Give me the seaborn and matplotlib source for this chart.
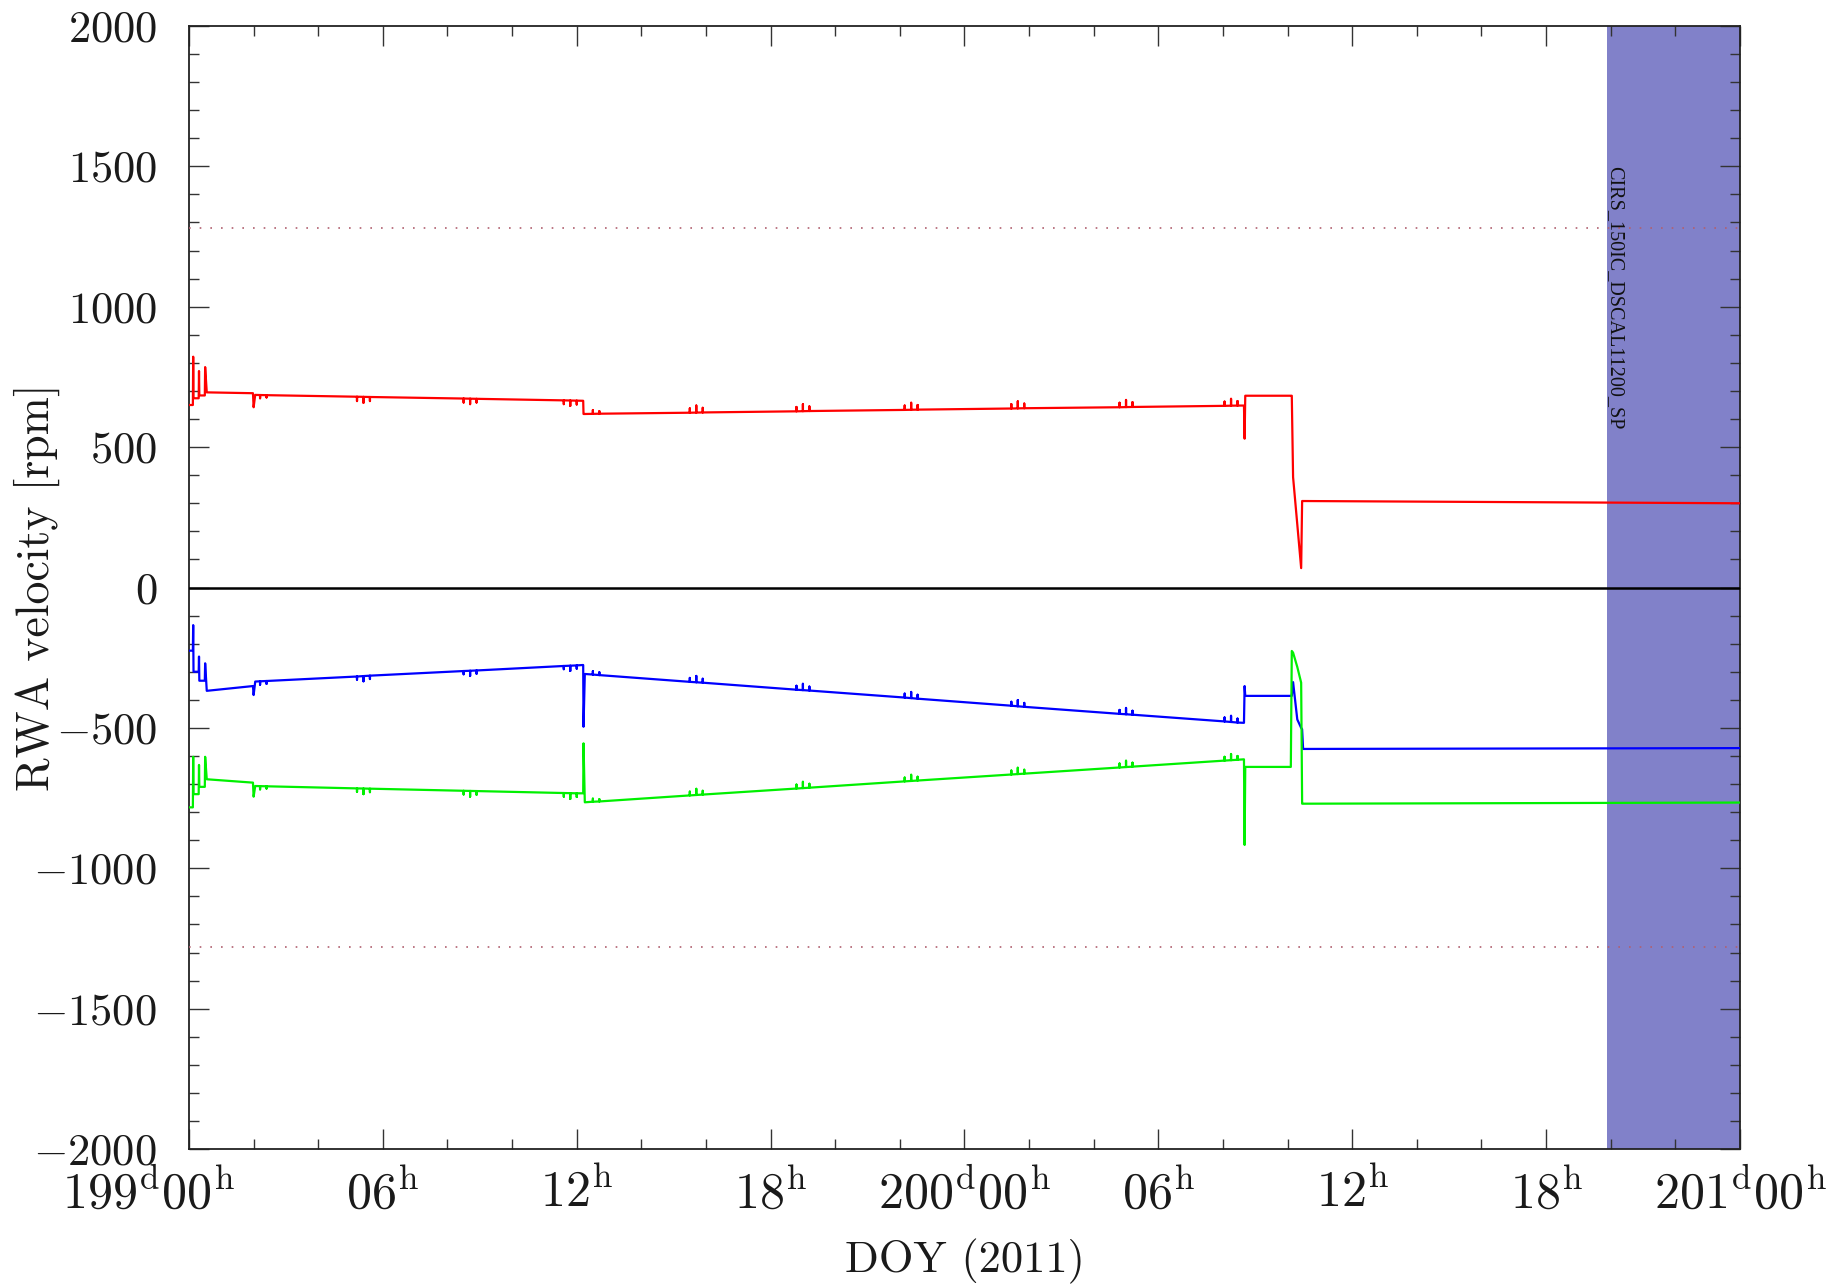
import matplotlib
matplotlib.use("Agg")
import pandas as pd
import matplotlib.pyplot as plt
import matplotlib.transforms as mtransforms
from matplotlib.ticker import MultipleLocator
import seaborn as sns

# horas desde 199d00h (DOY 2011)
hours = [0.00, 0.12, 0.13, 0.14, 0.30, 0.31, 0.32, 0.49, 0.50, 0.55, 1.98, 2.00, 2.05,
         2.20, 2.20, 2.20, 2.40, 2.40, 2.40,
         5.20, 5.20, 5.20, 5.40, 5.40, 5.40, 5.60, 5.60, 5.60,
         8.50, 8.50, 8.50, 8.70, 8.70, 8.70, 8.90, 8.90, 8.90,
         11.60, 11.60, 11.60, 11.80, 11.80, 11.80, 12.00, 12.00, 12.00,
         12.20, 12.21, 12.25,
         12.50, 12.50, 12.50, 12.70, 12.70, 12.70,
         15.50, 15.50, 15.50, 15.70, 15.70, 15.70, 15.90, 15.90, 15.90,
         18.80, 18.80, 18.80, 19.00, 19.00, 19.00, 19.20, 19.20, 19.20,
         22.15, 22.15, 22.15, 22.35, 22.35, 22.35, 22.55, 22.55, 22.55,
         25.45, 25.45, 25.45, 25.65, 25.65, 25.65, 25.85, 25.85, 25.85,
         28.80, 28.80, 28.80, 29.00, 29.00, 29.00, 29.20, 29.20, 29.20,
         32.05, 32.05, 32.05, 32.25, 32.25, 32.25, 32.45, 32.45, 32.45,
         32.65, 32.67, 32.69, 34.10, 34.13, 34.17, 34.30, 34.42, 34.45, 34.48, 48.00]

rwa_red = [650, 650, 822, 674, 674, 771, 684, 684, 785, 695, 692, 642, 686,
           685.5, 674, 685.5, 685, 677, 685,
           679.5, 664, 679.5, 679, 658, 679, 678.5, 664, 678.5,
           673, 659, 673, 672.5, 653, 672.5, 672, 659, 672,
           666.5, 653, 666.5, 666, 647, 666, 665.5, 652, 665.5,
           665, 618, 618,
           618.5, 632, 618.5, 619, 628, 619,
           622.5, 638, 622.5, 623, 648, 623, 623.5, 640, 623.5,
           627.5, 643, 627.5, 628, 653, 628, 628.5, 645, 628.5,
           632.5, 648, 632.5, 633, 658, 633, 633.5, 650, 633.5,
           637.5, 653, 637.5, 638, 663, 638, 638.5, 655, 638.5,
           642, 658, 642, 642.5, 668, 642.5, 643, 660, 643,
           647, 662, 647, 647.5, 672, 647.5, 648, 664, 648,
           648, 530, 683, 683, 683, 393, 225, 69, 308, 308, 300]

rwa_blue = [-225, -225, -134, -300, -300, -246, -332, -332, -270, -368, -351, -383, -335,
            -334, -346, -334, -333, -343, -333,
            -317, -328, -317, -315.5, -334, -315.5, -314, -326, -314,
            -297.5, -309, -297.5, -296.5, -315, -296.5, -295.5, -307, -295.5,
            -279.5, -291, -279.5, -278.5, -297, -278.5, -277.5, -289, -277.5,
            -276, -496, -308,
            -310, -298, -310, -312, -302, -312,
            -336, -322, -336, -337.5, -315, -337.5, -339, -325, -339,
            -364, -350, -364, -365.5, -343, -365.5, -367, -353, -367,
            -392, -378, -392, -394, -372, -394, -396, -382, -396,
            -421, -407, -421, -423, -401, -423, -425, -411, -425,
            -450, -436, -450, -451.5, -429, -451.5, -453, -439, -453,
            -477, -463, -477, -479, -457, -479, -481, -467, -481,
            -482, -351, -386, -386, -386, -337, -470, -500, -505, -575, -572]

rwa_green = [-783, -783, -603, -736, -736, -632, -710, -710, -603, -683, -695, -745, -707,
             -707.5, -719, -707.5, -708, -716, -708,
             -715.5, -728, -715.5, -716, -736, -716, -716.5, -729, -716.5,
             -724, -737, -724, -724.5, -745, -724.5, -725, -738, -725,
             -732, -745, -732, -732.5, -753, -732.5, -733, -746, -733,
             -733, -555, -765,
             -763, -752, -763, -762, -754, -762,
             -740.5, -727, -740.5, -739, -717, -739, -737.5, -724, -737.5,
             -716, -702, -716, -714.5, -692, -714.5, -713, -699, -713,
             -690.5, -677, -690.5, -689, -667, -689, -687.5, -674, -687.5,
             -666, -652, -666, -664.5, -642, -664.5, -663, -649, -663,
             -641, -627, -641, -639.5, -617, -639.5, -638, -624, -638,
             -616.5, -603, -616.5, -615, -593, -615, -613.5, -600, -613.5,
             -612, -917, -639, -639, -226, -232, -283, -339, -770, -770, -766]

limites = [1280, -1280]
bloque_inicio, bloque_fin = 43.9, 48.0
bloque_nombre = "CIRS_150IC_DSCAL11200_SP"

xtick_hours = [0, 6, 12, 18, 24, 30, 36, 42, 48]
xtick_labels = [r"$199^{\rm d}00^{\rm h}$", r"$06^{\rm h}$", r"$12^{\rm h}$", r"$18^{\rm h}$",
                r"$200^{\rm d}00^{\rm h}$", r"$06^{\rm h}$", r"$12^{\rm h}$", r"$18^{\rm h}$",
                r"$201^{\rm d}00^{\rm h}$"]
ytick_vals = [-2000, -1500, -1000, -500, 0, 500, 1000, 1500, 2000]
ytick_labels = [r"$-2000$", r"$-1500$", r"$-1000$", r"$-500$", r"$0$",
                r"$500$", r"$1000$", r"$1500$", r"$2000$"]

assert len(hours) == len(rwa_red) == len(rwa_blue) == len(rwa_green)

sns.set_style("ticks")
plt.rcParams["font.family"] = ["cmr10", "DejaVu Serif"]
plt.rcParams["mathtext.fontset"] = "cm"
plt.rcParams["axes.unicode_minus"] = False

datos = pd.concat([
    pd.DataFrame({"hora": hours, "rpm": rwa_red, "rueda": "rwa1"}),
    pd.DataFrame({"hora": hours, "rpm": rwa_blue, "rueda": "rwa2"}),
    pd.DataFrame({"hora": hours, "rpm": rwa_green, "rueda": "rwa3"}),
], ignore_index=True)

fig = plt.figure(figsize=(18.42, 12.85), dpi=100)
ax = fig.add_axes([0.1026, 0.1058, 0.842, 0.874])

ax.axvspan(bloque_inicio, bloque_fin, color="#8181c9", lw=0, zorder=0)
for lim in limites:
    ax.axhline(lim, color="#b06070", lw=1.2, ls=(0, (1, 5.4)), zorder=4)

sns.lineplot(data=datos, x="hora", y="rpm", hue="rueda",
             palette={"rwa1": "#ff0000", "rwa2": "#0000ff", "rwa3": "#00f000"},
             estimator=None, sort=False, linewidth=1.6, legend=False, ax=ax, zorder=3)
ax.axhline(0, color="black", lw=1.8, zorder=5)

ax.text(43.83, 1500, bloque_nombre, rotation=-90, ha="left", va="top",
        fontsize=14.5, family="Liberation Serif", color="#111111", zorder=6)

ax.set_xlim(0, 48)
ax.set_ylim(-2000, 2000)
ax.set_xticks(xtick_hours, labels=xtick_labels)
ax.set_yticks(ytick_vals, labels=ytick_labels)
ax.xaxis.set_minor_locator(MultipleLocator(2))
ax.yaxis.set_minor_locator(MultipleLocator(100))
ax.tick_params(which="both", direction="in", top=True, right=True,
               color="#333333", width=1.0, labelcolor="#1a1a1a")
ax.tick_params(which="major", length=14.4)
ax.tick_params(which="minor", length=7.2)
ax.tick_params(axis="x", pad=14, labelsize=36)
ax.tick_params(axis="y", pad=23, labelsize=32)
for s in ax.spines.values():
    s.set_linewidth(1.3)
    s.set_color("#222222")

# la primera etiqueta va corrida a la izquierda
primera = ax.xaxis.get_major_ticks()[0].label1
primera.set_transform(primera.get_transform() +
                      mtransforms.ScaledTranslation(-0.41, 0, fig.dpi_scale_trans))

ax.set_xlabel("DOY (2011)", fontsize=32, color="#1a1a1a")
ax.set_ylabel("RWA velocity [rpm]", fontsize=33, color="#1a1a1a")
ax.xaxis.label.set_va("center")
ax.yaxis.label.set_va("center")
ax.xaxis.set_label_coords(0.5, -0.1)
ax.yaxis.set_label_coords(-0.098, 0.5)

plt.savefig("out.png", dpi=100)
